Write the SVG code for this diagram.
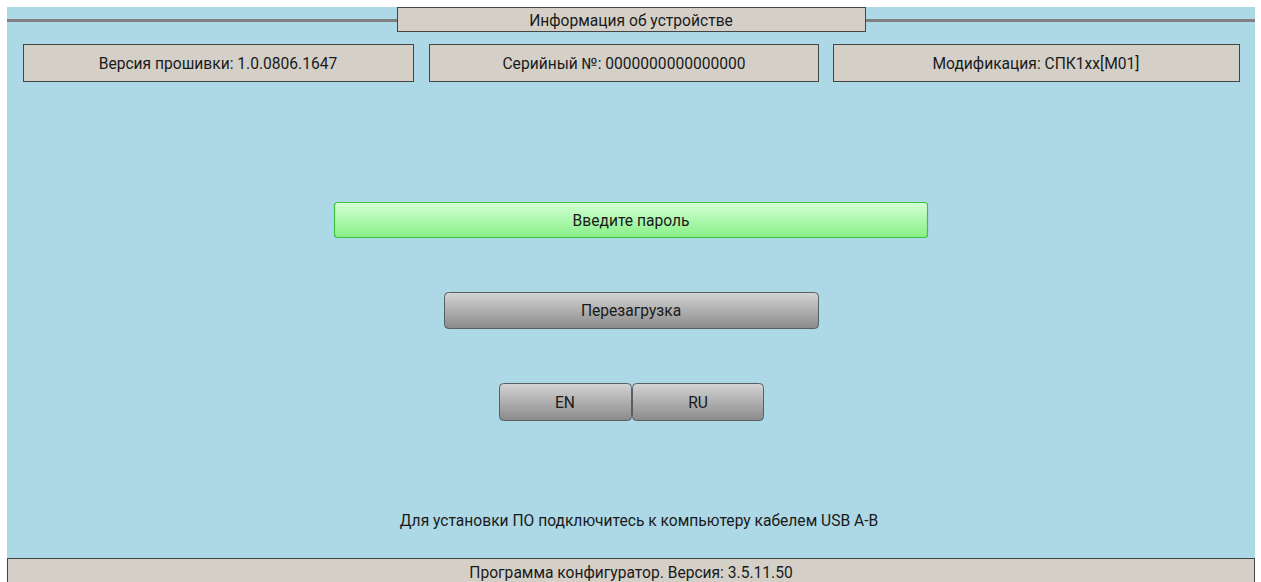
<svg xmlns="http://www.w3.org/2000/svg" width="1261" height="582" viewBox="0 0 1261 582">
<defs>
<linearGradient id="gGreen" x1="0" y1="0" x2="0" y2="1">
<stop offset="0" stop-color="#d6ffd6"/>
<stop offset="1" stop-color="#86f086"/>
</linearGradient>
<linearGradient id="gGray" x1="0" y1="0" x2="0" y2="1">
<stop offset="0" stop-color="#d4d4d4"/>
<stop offset="1" stop-color="#8a8a8a"/>
</linearGradient>
</defs>
<style>
.panel{fill:#d4d0c8;stroke:#444;stroke-width:1}
.t{font-family:Roboto,"Noto Sans",sans-serif;font-size:15.6px;fill:#1a1a1a;text-anchor:middle}
.btn{fill:url(#gGray);stroke:#556066;stroke-width:1}
</style>
<rect x="0" y="0" width="1261" height="582" fill="#ffffff"/>
<rect x="7" y="7" width="1248" height="575" fill="#add8e6"/>
<rect x="7" y="19" width="1248" height="3" fill="#808080"/>
<g id="title">
<rect class="panel" x="397.5" y="7.5" width="468" height="24"/>
<text class="t" x="631" y="25.5">Информация об устройстве</text>
</g>
<g id="firmware">
<rect class="panel" x="23.5" y="44.5" width="390" height="37"/>
<text class="t" x="218" y="68.5">Версия прошивки: 1.0.0806.1647</text>
</g>
<g id="serial">
<rect class="panel" x="429.5" y="44.5" width="389" height="37"/>
<text class="t" x="624" y="68.5">Серийный №: 0000000000000000</text>
</g>
<g id="modification">
<rect class="panel" x="833.5" y="44.5" width="406" height="37"/>
<text class="t" x="1036" y="68.5">Модификация: СПК1xx[M01]</text>
</g>
<g id="password">
<rect x="334.5" y="202.5" width="593" height="35" rx="3" fill="url(#gGreen)" stroke="#3fc43f" stroke-width="1.2"/>
<text class="t" x="631" y="225.5">Введите пароль</text>
</g>
<g id="reboot">
<rect class="btn" x="444.5" y="292.5" width="374" height="36" rx="4"/>
<text class="t" x="631" y="316">Перезагрузка</text>
</g>
<g id="en">
<rect class="btn" x="499.5" y="383.5" width="132" height="37" rx="4"/>
<text class="t" x="565" y="407.5">EN</text>
</g>
<g id="ru">
<rect class="btn" x="632.5" y="383.5" width="131" height="37" rx="4"/>
<text class="t" x="698" y="407.5">RU</text>
</g>
<g id="connectors"></g>
<text class="t" x="639" y="526">Для установки ПО подключитесь к компьютеру кабелем USB A-B</text>
<g id="footer">
<rect class="panel" x="7.5" y="558.5" width="1247" height="30"/>
<text class="t" x="631" y="578">Программа конфигуратор. Версия: 3.5.11.50</text>
</g>
</svg>
